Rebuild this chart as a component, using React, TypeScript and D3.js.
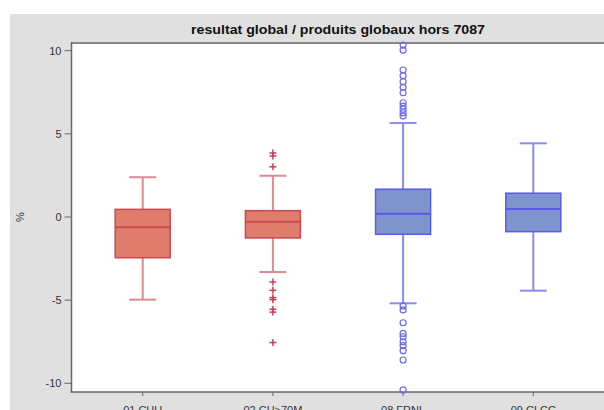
import React from "react";
import * as d3 from "d3";

const categories = ["01 CHU", "02 CH>70M", "08 FRNL", "09 CLCC"];
const whiskerLow = [-4.97, -3.31, -5.19, -4.43];
const q1 = [-2.45, -1.26, -1.04, -0.88];
const medians = [-0.62, -0.28, 0.2, 0.48];
const q3 = [0.46, 0.38, 1.67, 1.43];
const whiskerHigh = [2.39, 2.48, 5.65, 4.43];
const outliers: number[][] = [
  [],
  [3.85, 3.67, 3.02, -3.91, -4.41, -4.85, -4.97, -5.55, -5.72, -7.55],
  [10.34, 10.04, 8.84, 8.5, 8.14, 7.8, 7.47, 6.87, 6.67, 6.48, 6.27, 6.07,
   -5.35, -5.59, -6.36, -7.0, -7.2, -7.5, -7.74, -8.04, -8.6, -10.4],
  [],
];
const groupKind = ["red", "red", "blue", "blue"];
const yTicks = [10, 5, 0, -5, -10];
const title = "resultat global / produits globaux hors 7087";

const W = 604, H = 410;
const plotL = 71.5, plotT = 43, plotB = 392, plotR = 620;

export default function App() {
  const y = d3.scaleLinear().domain([-10, 10]).range([383.3, 50.7]);
  const x = d3.scalePoint<string>().domain(categories).range([142.7, 533.3]);
  const boxW = 55, capW = 27;
  const styles: Record<string, { fill: string; stroke: string; whisk: string; out: string }> = {
    red: { fill: "#e07c6c", stroke: "#c94a52", whisk: "#dc8a94", out: "#c8405a" },
    blue: { fill: "#7d95cc", stroke: "#5a5ae6", whisk: "#8a8af2", out: "#6a6aee" },
  };
  return (
    <svg width={W} height={H} style={{ position: "absolute", left: 0, top: 0 }}
      fontFamily="'Liberation Sans', Arial, sans-serif">
      <rect x={0} y={0} width={W} height={H} fill="#fff" />
      <rect x={10} y={14} width={W - 10} height={H - 14} fill="#e0e0e0" />
      <rect x={plotL} y={plotT} width={plotR - plotL} height={plotB - plotT} fill="#fff" />
      <text x={338} y={34} textAnchor="middle" fontWeight="bold" fontSize={13.5}
        textLength={294} lengthAdjust="spacingAndGlyphs" fill="#111">{title}</text>
      {/* frame */}
      <line x1={plotL} x2={plotR} y1={plotT} y2={plotT} stroke="#888" strokeWidth={2} />
      <line x1={plotL} x2={plotL} y1={plotT - 1} y2={plotB} stroke="#666" strokeWidth={1.5} />
      <line x1={plotL - 1} x2={plotR} y1={plotB} y2={plotB} stroke="#666" strokeWidth={1.5} />
      {/* y axis */}
      {yTicks.map((t) => (
        <g key={t}>
          <line x1={plotL - 7} x2={plotL} y1={y(t)} y2={y(t)} stroke="#666" strokeWidth={1} />
          <text x={plotL - 10} y={y(t) + 4} textAnchor="end" fontSize={11} fill="#333">{t}</text>
        </g>
      ))}
      <text transform={`translate(24,${y(0)}) rotate(-90)`} textAnchor="middle" fontSize={11} fill="#333">%</text>
      {/* x axis */}
      {categories.map((c) => (
        <g key={c}>
          <line x1={x(c)} x2={x(c)} y1={plotB} y2={plotB + 4} stroke="#666" strokeWidth={1} />
          <text x={x(c)} y={414} textAnchor="middle" fontSize={11} fill="#333">{c}</text>
        </g>
      ))}
      {/* boxes */}
      {categories.map((c, i) => {
        const cx = x(c)!;
        const s = styles[groupKind[i]];
        return (
          <g key={c}>
            <line x1={cx} x2={cx} y1={y(whiskerHigh[i])} y2={y(q3[i])} stroke={s.whisk} strokeWidth={2} />
            <line x1={cx} x2={cx} y1={y(q1[i])} y2={y(whiskerLow[i])} stroke={s.whisk} strokeWidth={2} />
            <line x1={cx - capW / 2} x2={cx + capW / 2} y1={y(whiskerHigh[i])} y2={y(whiskerHigh[i])} stroke={s.whisk} strokeWidth={2} />
            <line x1={cx - capW / 2} x2={cx + capW / 2} y1={y(whiskerLow[i])} y2={y(whiskerLow[i])} stroke={s.whisk} strokeWidth={2} />
            <rect x={cx - boxW / 2} y={y(q3[i])} width={boxW} height={y(q1[i]) - y(q3[i])}
              fill={s.fill} stroke={s.stroke} strokeWidth={1.5} />
            <line x1={cx - boxW / 2} x2={cx + boxW / 2} y1={y(medians[i])} y2={y(medians[i])} stroke={s.stroke} strokeWidth={2} />
            {outliers[i].map((v, k) =>
              groupKind[i] === "red" ? (
                <g key={k} stroke={s.out} strokeWidth={1.5}>
                  <line x1={cx - 3.5} x2={cx + 3.5} y1={y(v)} y2={y(v)} />
                  <line x1={cx} x2={cx} y1={y(v) - 3.5} y2={y(v) + 3.5} />
                </g>
              ) : (
                <circle key={k} cx={cx} cy={y(v)} r={3} fill="none" stroke={s.out} strokeWidth={1.2} />
              )
            )}
          </g>
        );
      })}
    </svg>
  );
}
